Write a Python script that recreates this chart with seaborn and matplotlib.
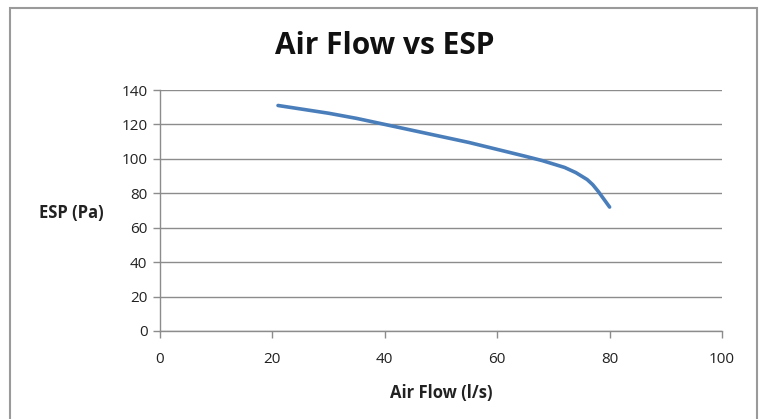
import matplotlib
matplotlib.use("Agg")
import matplotlib.pyplot as plt
import seaborn as sns
import pandas as pd
from matplotlib.patches import Rectangle

air_flow = [21, 25, 30, 35, 40, 45, 50, 55, 60, 65, 68, 70, 72, 74, 75, 76, 77, 78, 79, 80]
esp = [131, 129, 126.5, 123.5, 120, 116.5, 113, 109.5, 105.5, 101.5, 99, 97, 95, 92, 90, 88, 85, 81, 76.5, 72]
x_ticks = [0, 20, 40, 60, 80, 100]
y_ticks = [0, 20, 40, 60, 80, 100, 120, 140]

df = pd.DataFrame({"Air Flow (l/s)": air_flow, "ESP (Pa)": esp})

sns.set_theme(style="white")
plt.rcParams['font.family'] = ['Open Sans', 'DejaVu Sans']

fig = plt.figure(figsize=(7.64, 4.19), dpi=100)
fig.patch.set_facecolor("white")
# outer chart border
fig.add_artist(Rectangle((10/764, -0.05), (757-10)/764, 1.05 - 8/419,
                         transform=fig.transFigure, fill=False,
                         edgecolor="#9a9a9a", linewidth=1.5))

ax = fig.add_axes([160/764, 1-331/419, (722-160)/764, (331-90)/419])
sns.lineplot(data=df, x="Air Flow (l/s)", y="ESP (Pa)", ax=ax,
             color="#4A7EBB", linewidth=2.6, sort=True)

ax.set_xlim(0, 100)
ax.set_ylim(0, 140)
ax.set_xticks(x_ticks)
ax.set_yticks(y_ticks)
ax.grid(axis="y", color="#8c8c8c", linewidth=1.0)
ax.set_axisbelow(True)
for s in ["top", "right"]:
    ax.spines[s].set_visible(False)
for s in ["left", "bottom"]:
    ax.spines[s].set_color("#8c8c8c")
    ax.spines[s].set_linewidth(1.0)
ax.tick_params(axis="both", which="major", length=5, width=1.0, color="#8c8c8c",
               labelsize=11, labelcolor="#222222", direction="out",
               bottom=True, left=True)
ax.tick_params(axis="x", pad=10)
ax.tick_params(axis="y", pad=4)

ax.set_xlabel("Air Flow (l/s)", fontsize=12, fontweight="bold", color="#222222", labelpad=12)
ax.set_ylabel("ESP (Pa)", fontsize=12, fontweight="bold", color="#222222",
              rotation=0, ha="center", va="center")
ax.yaxis.set_label_coords((71-160)/562, (331-213)/241)

fig.text(385/764, 1-46/419, "Air Flow vs ESP", ha="center", va="center",
         fontsize=21.5, fontweight="bold", color="#111111")

fig.savefig("out.png", dpi=100, facecolor="white")
